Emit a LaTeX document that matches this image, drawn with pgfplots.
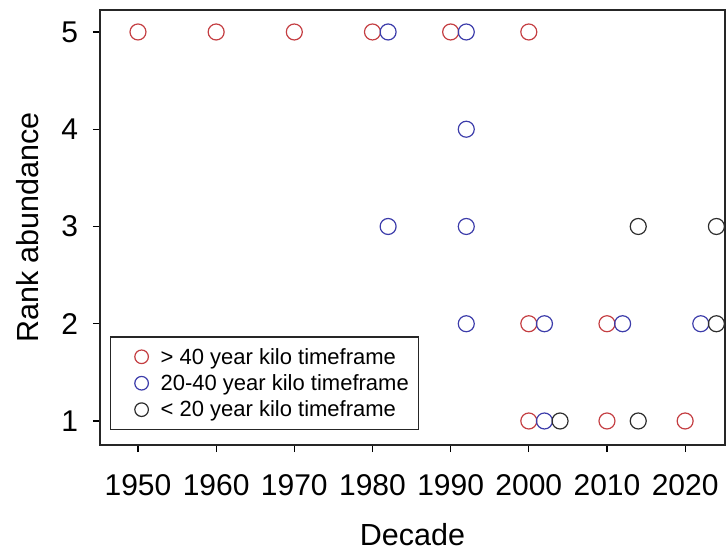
\documentclass[border=0pt]{standalone}
\usepackage{pgfplots}
\pgfplotsset{compat=1.18}
\usepackage{fontspec}
\setmainfont{Liberation Sans}

\definecolor{oldkilo}{RGB}{196,62,66}
\definecolor{midkilo}{RGB}{60,60,170}
\definecolor{newkilo}{RGB}{45,45,45}

\begin{document}
\begin{tikzpicture}
\begin{axis}[
  name=main,
  scale only axis,
  width=625pt, height=435pt,
  xmin=1945.14, xmax=2025.1,
  ymin=0.753, ymax=5.226,
  xtick={1950,1960,...,2020},
  ytick={1,2,3,4,5},
  xtick pos=bottom, ytick pos=left,
  tick align=outside,
  major tick length=7pt,
  every tick/.style={black, line width=1.1pt},
  axis line style={line width=1.1pt, black!85},
  /pgf/number format/assume math mode=true,
  /pgf/number format/1000 sep={},
  ticklabel style={font=\fontsize{30}{35}\selectfont},
  xticklabel style={yshift=-19pt},
  yticklabel style={xshift=-11.4pt},
  xlabel={Decade},
  ylabel={Rank abundance},
  every axis x label/.style={at={(axis description cs:0.5,0)}, yshift=-100pt,
    anchor=base, font=\fontsize{30.5}{35}\selectfont},
  every axis y label/.style={at={(axis description cs:0,0.5)}, xshift=-72pt,
    rotate=90, anchor=center, font=\fontsize{30.5}{35}\selectfont},
  legend cell align=left,
  legend style={
    at={(0.016,0.0345)}, anchor=south west,
    font=\fontsize{22}{26}\selectfont,
    draw=black!85, line width=1.2pt,
    inner xsep=8pt, inner ysep=9pt,
    row sep=5pt,
  },
  legend image code/.code={
    \path[draw=none, fill=none] (0pt,0pt) -- (40pt,0pt);
    \draw[#1, mark size=6.8pt] plot coordinates {(23pt,0pt)};
  },
  every axis plot/.append style={only marks, mark=o, mark size=8pt, line width=1.2pt},
]
% kilo used for more than 40 years
\addplot[oldkilo] coordinates {
  (1950,5) (1960,5) (1970,5) (1980,5) (1990,5) (2000,5)
  (2000,2) (2000,1) (2010,2) (2010,1) (2020,1)
};
\addlegendentry{> 40 year kilo timeframe}
% kilo used for 20 to 40 years
\addplot[midkilo] coordinates {
  (1982,5) (1982,3) (1992,5) (1992,4) (1992,3) (1992,2)
  (2002,2) (2002,1) (2012,2) (2022,2)
};
\addlegendentry{20-40 year kilo timeframe}
% kilo used for fewer than 20 years
\addplot[newkilo] coordinates {
  (2004,1) (2014,3) (2014,1) (2024,3) (2024,2)
};
\addlegendentry{< 20 year kilo timeframe}
\end{axis}
% fixed page margins around the plotting box
\pgfresetboundingbox
\useasboundingbox ([xshift=-100pt, yshift=-105pt]main.south west) rectangle ([xshift=2pt, yshift=10pt]main.north east);
\end{tikzpicture}
\end{document}
